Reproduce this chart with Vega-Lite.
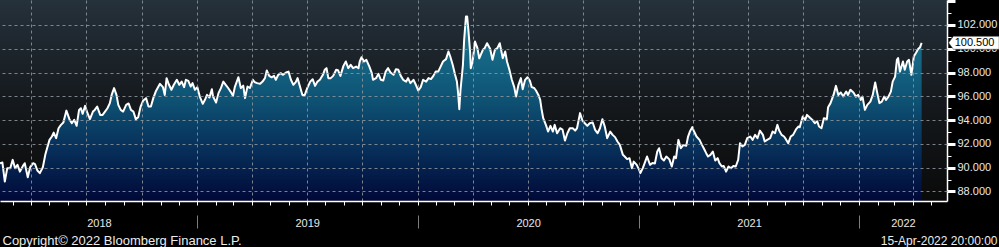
{
  "$schema": "https://vega.github.io/schema/vega-lite/v6.json",
  "width": 947,
  "height": 201,
  "autosize": {"type": "none"},
  "padding": {"left": 0, "top": 0, "right": 52, "bottom": 46},
  "background": "#000000",
  "view": {
    "stroke": null,
    "fill": {"gradient": "linear", "x1": 0, "y1": 0, "x2": 0, "y2": 1,
      "stops": [{"offset": 0, "color": "#25313b"}, {"offset": 0.5, "color": "#15191d"}, {"offset": 1, "color": "#0a0a0a"}]}
  },
  "config": {"font": "Liberation Sans", "axis": {"labelFont": "Liberation Sans", "titleFont": "Liberation Sans"}},
  "data": {"values": [
    {"date":"2018-02-08","value":90.38},{"date":"2018-02-12","value":90.43},{"date":"2018-02-16","value":88.83},{"date":"2018-02-20","value":89.96},{"date":"2018-02-25","value":89.96},
    {"date":"2018-03-01","value":90.66},{"date":"2018-03-05","value":89.96},{"date":"2018-03-09","value":90.24},{"date":"2018-03-13","value":89.67},{"date":"2018-03-18","value":90.15},
    {"date":"2018-03-21","value":90.38},{"date":"2018-03-26","value":89.2},{"date":"2018-03-30","value":90.04},{"date":"2018-04-04","value":90.38},{"date":"2018-04-07","value":90.3},
    {"date":"2018-04-11","value":89.76},{"date":"2018-04-15","value":89.54},{"date":"2018-04-20","value":90.04},{"date":"2018-04-24","value":91.08},{"date":"2018-04-27","value":91.64},
    {"date":"2018-05-01","value":92.34},{"date":"2018-05-05","value":92.62},{"date":"2018-05-08","value":92.95},{"date":"2018-05-12","value":92.48},{"date":"2018-05-16","value":93.32},
    {"date":"2018-05-20","value":93.6},{"date":"2018-05-24","value":93.8},{"date":"2018-05-29","value":94.8},{"date":"2018-06-03","value":94.08},{"date":"2018-06-07","value":93.74},
    {"date":"2018-06-11","value":94.02},{"date":"2018-06-15","value":93.52},{"date":"2018-06-19","value":94.86},{"date":"2018-06-22","value":95.0},{"date":"2018-06-25","value":94.53},
    {"date":"2018-06-29","value":95.2},{"date":"2018-07-03","value":94.58},{"date":"2018-07-07","value":94.08},{"date":"2018-07-12","value":94.72},{"date":"2018-07-15","value":94.86},
    {"date":"2018-07-19","value":95.14},{"date":"2018-07-24","value":94.44},{"date":"2018-07-28","value":94.44},{"date":"2018-08-01","value":94.72},{"date":"2018-08-05","value":95.0},
    {"date":"2018-08-09","value":95.43},{"date":"2018-08-12","value":96.12},{"date":"2018-08-16","value":96.69},{"date":"2018-08-20","value":96.12},{"date":"2018-08-23","value":95.28},
    {"date":"2018-08-27","value":94.86},{"date":"2018-08-31","value":94.72},{"date":"2018-09-05","value":95.28},{"date":"2018-09-09","value":95.4},{"date":"2018-09-13","value":94.86},
    {"date":"2018-09-17","value":94.72},{"date":"2018-09-21","value":94.08},{"date":"2018-09-25","value":94.25},{"date":"2018-09-29","value":95.14},{"date":"2018-10-03","value":95.62},
    {"date":"2018-10-08","value":95.85},{"date":"2018-10-12","value":95.14},{"date":"2018-10-16","value":95.14},{"date":"2018-10-20","value":95.85},{"date":"2018-10-24","value":96.4},
    {"date":"2018-10-31","value":97.05},{"date":"2018-11-05","value":96.77},{"date":"2018-11-08","value":96.12},{"date":"2018-11-11","value":97.53},{"date":"2018-11-15","value":96.97},
    {"date":"2018-11-19","value":96.55},{"date":"2018-11-23","value":96.97},{"date":"2018-11-28","value":97.39},{"date":"2018-12-02","value":96.97},{"date":"2018-12-06","value":97.24},
    {"date":"2018-12-10","value":96.77},{"date":"2018-12-13","value":97.39},{"date":"2018-12-17","value":97.3},{"date":"2018-12-21","value":96.82},{"date":"2018-12-24","value":97.11},
    {"date":"2018-12-28","value":96.55},{"date":"2019-01-01","value":96.77},{"date":"2019-01-05","value":95.98},{"date":"2019-01-10","value":95.37},{"date":"2019-01-14","value":95.76},
    {"date":"2019-01-17","value":96.12},{"date":"2019-01-21","value":95.9},{"date":"2019-01-25","value":96.6},{"date":"2019-01-27","value":95.98},{"date":"2019-02-01","value":95.48},
    {"date":"2019-02-05","value":96.27},{"date":"2019-02-09","value":96.69},{"date":"2019-02-13","value":97.24},{"date":"2019-02-17","value":96.97},{"date":"2019-02-21","value":96.7},
    {"date":"2019-02-25","value":96.4},{"date":"2019-03-01","value":96.04},{"date":"2019-03-04","value":96.77},{"date":"2019-03-10","value":97.61},{"date":"2019-03-14","value":96.69},
    {"date":"2019-03-18","value":96.9},{"date":"2019-03-21","value":95.85},{"date":"2019-03-25","value":96.82},{"date":"2019-03-29","value":96.7},{"date":"2019-04-03","value":97.39},
    {"date":"2019-04-06","value":97.2},{"date":"2019-04-10","value":97.11},{"date":"2019-04-15","value":97.05},{"date":"2019-04-19","value":97.24},{"date":"2019-04-23","value":97.53},
    {"date":"2019-04-26","value":98.17},{"date":"2019-04-30","value":97.72},{"date":"2019-05-04","value":97.6},{"date":"2019-05-08","value":97.72},{"date":"2019-05-11","value":97.39},
    {"date":"2019-05-15","value":97.81},{"date":"2019-05-19","value":97.95},{"date":"2019-05-23","value":97.81},{"date":"2019-05-28","value":98.0},{"date":"2019-06-01","value":98.08},
    {"date":"2019-06-05","value":97.39},{"date":"2019-06-09","value":96.97},{"date":"2019-06-13","value":97.2},{"date":"2019-06-16","value":97.53},{"date":"2019-06-20","value":96.82},
    {"date":"2019-06-24","value":96.12},{"date":"2019-06-28","value":96.12},{"date":"2019-07-02","value":96.69},{"date":"2019-07-07","value":97.24},{"date":"2019-07-11","value":97.44},
    {"date":"2019-07-15","value":96.88},{"date":"2019-07-19","value":97.24},{"date":"2019-07-23","value":97.39},{"date":"2019-07-28","value":97.81},{"date":"2019-07-31","value":98.23},
    {"date":"2019-08-03","value":98.37},{"date":"2019-08-06","value":97.53},{"date":"2019-08-10","value":97.53},{"date":"2019-08-14","value":97.72},{"date":"2019-08-19","value":98.23},
    {"date":"2019-08-22","value":98.2},{"date":"2019-08-26","value":97.72},{"date":"2019-08-31","value":98.56},{"date":"2019-09-04","value":98.93},{"date":"2019-09-08","value":98.37},
    {"date":"2019-09-12","value":98.65},{"date":"2019-09-16","value":98.37},{"date":"2019-09-21","value":98.5},{"date":"2019-09-25","value":98.37},{"date":"2019-09-27","value":98.93},
    {"date":"2019-09-30","value":99.29},{"date":"2019-10-04","value":98.93},{"date":"2019-10-08","value":99.07},{"date":"2019-10-13","value":98.5},{"date":"2019-10-17","value":97.95},
    {"date":"2019-10-19","value":97.39},{"date":"2019-10-24","value":97.53},{"date":"2019-10-28","value":97.89},{"date":"2019-11-01","value":97.39},{"date":"2019-11-05","value":97.33},
    {"date":"2019-11-09","value":98.08},{"date":"2019-11-13","value":98.37},{"date":"2019-11-17","value":98.0},{"date":"2019-11-22","value":97.81},{"date":"2019-11-26","value":98.28},
    {"date":"2019-11-30","value":98.23},{"date":"2019-12-04","value":97.72},{"date":"2019-12-08","value":97.39},{"date":"2019-12-13","value":97.24},{"date":"2019-12-16","value":97.53},
    {"date":"2019-12-20","value":97.11},{"date":"2019-12-25","value":97.39},{"date":"2019-12-29","value":96.97},{"date":"2020-01-02","value":96.49},{"date":"2020-01-06","value":96.77},
    {"date":"2020-01-10","value":97.39},{"date":"2020-01-15","value":97.24},{"date":"2020-01-19","value":97.53},{"date":"2020-01-23","value":97.45},{"date":"2020-01-27","value":97.72},
    {"date":"2020-01-31","value":98.08},{"date":"2020-02-04","value":98.08},{"date":"2020-02-08","value":98.5},{"date":"2020-02-12","value":98.93},{"date":"2020-02-17","value":99.13},
    {"date":"2020-02-21","value":99.77},{"date":"2020-02-24","value":99.35},{"date":"2020-02-28","value":98.65},{"date":"2020-03-03","value":97.81},{"date":"2020-03-06","value":97.24},
    {"date":"2020-03-08","value":96.27},{"date":"2020-03-10","value":94.92},{"date":"2020-03-12","value":96.55},{"date":"2020-03-16","value":98.65},{"date":"2020-03-18","value":100.75},
    {"date":"2020-03-21","value":102.71},{"date":"2020-03-23","value":102.71},{"date":"2020-03-25","value":101.59},{"date":"2020-03-28","value":99.63},{"date":"2020-03-29","value":98.37},
    {"date":"2020-04-01","value":98.93},{"date":"2020-04-05","value":100.61},{"date":"2020-04-09","value":100.05},{"date":"2020-04-12","value":99.2},{"date":"2020-04-18","value":99.91},
    {"date":"2020-04-21","value":100.05},{"date":"2020-04-25","value":100.47},{"date":"2020-04-30","value":100.0},{"date":"2020-05-04","value":99.07},{"date":"2020-05-08","value":99.91},
    {"date":"2020-05-12","value":100.05},{"date":"2020-05-16","value":100.47},{"date":"2020-05-21","value":99.2},{"date":"2020-05-25","value":99.77},{"date":"2020-05-28","value":98.93},
    {"date":"2020-06-01","value":98.23},{"date":"2020-06-05","value":97.39},{"date":"2020-06-09","value":96.77},{"date":"2020-06-12","value":95.98},{"date":"2020-06-16","value":96.97},
    {"date":"2020-06-20","value":97.53},{"date":"2020-06-23","value":96.6},{"date":"2020-06-27","value":97.39},{"date":"2020-07-01","value":97.61},{"date":"2020-07-05","value":97.3},
    {"date":"2020-07-08","value":96.77},{"date":"2020-07-12","value":96.7},{"date":"2020-07-15","value":96.49},{"date":"2020-07-19","value":96.12},{"date":"2020-07-22","value":95.7},
    {"date":"2020-07-24","value":95.0},{"date":"2020-07-27","value":94.16},{"date":"2020-08-01","value":93.52},{"date":"2020-08-04","value":93.04},{"date":"2020-08-08","value":93.52},
    {"date":"2020-08-12","value":93.04},{"date":"2020-08-15","value":93.6},{"date":"2020-08-19","value":92.9},{"date":"2020-08-24","value":93.32},{"date":"2020-08-28","value":93.2},
    {"date":"2020-09-01","value":92.28},{"date":"2020-09-05","value":92.9},{"date":"2020-09-09","value":93.32},{"date":"2020-09-14","value":93.32},{"date":"2020-09-18","value":93.12},
    {"date":"2020-09-21","value":93.32},{"date":"2020-09-26","value":94.59},{"date":"2020-09-30","value":93.96},{"date":"2020-10-04","value":93.74},{"date":"2020-10-08","value":93.52},
    {"date":"2020-10-12","value":93.74},{"date":"2020-10-17","value":93.8},{"date":"2020-10-21","value":93.18},{"date":"2020-10-25","value":92.9},{"date":"2020-10-29","value":93.32},
    {"date":"2020-11-02","value":94.08},{"date":"2020-11-06","value":93.46},{"date":"2020-11-10","value":92.48},{"date":"2020-11-15","value":93.04},{"date":"2020-11-19","value":92.76},
    {"date":"2020-11-23","value":92.57},{"date":"2020-11-27","value":92.2},{"date":"2020-12-01","value":91.92},{"date":"2020-12-06","value":91.08},{"date":"2020-12-09","value":90.94},
    {"date":"2020-12-13","value":90.72},{"date":"2020-12-17","value":90.8},{"date":"2020-12-21","value":89.96},{"date":"2020-12-24","value":90.51},{"date":"2020-12-29","value":90.24},
    {"date":"2021-01-02","value":89.82},{"date":"2021-01-04","value":89.54},{"date":"2021-01-08","value":89.96},{"date":"2021-01-12","value":90.51},{"date":"2021-01-15","value":90.94},
    {"date":"2021-01-20","value":90.24},{"date":"2021-01-24","value":90.4},{"date":"2021-01-28","value":90.35},{"date":"2021-02-01","value":91.36},{"date":"2021-02-04","value":91.64},
    {"date":"2021-02-08","value":90.8},{"date":"2021-02-12","value":90.6},{"date":"2021-02-16","value":90.94},{"date":"2021-02-21","value":90.7},{"date":"2021-02-25","value":90.1},
    {"date":"2021-03-01","value":90.94},{"date":"2021-03-04","value":90.8},{"date":"2021-03-08","value":92.34},{"date":"2021-03-12","value":91.64},{"date":"2021-03-16","value":91.9},
    {"date":"2021-03-21","value":91.84},{"date":"2021-03-24","value":92.62},{"date":"2021-03-27","value":93.04},{"date":"2021-03-31","value":93.41},{"date":"2021-04-03","value":93.04},
    {"date":"2021-04-07","value":92.62},{"date":"2021-04-12","value":92.34},{"date":"2021-04-16","value":91.92},{"date":"2021-04-19","value":91.64},{"date":"2021-04-23","value":91.22},
    {"date":"2021-04-26","value":90.94},{"date":"2021-04-30","value":91.08},{"date":"2021-05-04","value":91.36},{"date":"2021-05-08","value":90.6},{"date":"2021-05-12","value":90.8},
    {"date":"2021-05-15","value":90.38},{"date":"2021-05-19","value":90.1},{"date":"2021-05-22","value":90.15},{"date":"2021-05-26","value":89.67},{"date":"2021-05-30","value":90.1},
    {"date":"2021-06-03","value":89.96},{"date":"2021-06-07","value":90.15},{"date":"2021-06-11","value":90.1},{"date":"2021-06-15","value":90.66},{"date":"2021-06-18","value":92.06},
    {"date":"2021-06-22","value":91.78},{"date":"2021-06-26","value":91.92},{"date":"2021-06-30","value":92.48},{"date":"2021-07-05","value":92.62},{"date":"2021-07-09","value":92.34},
    {"date":"2021-07-13","value":92.76},{"date":"2021-07-17","value":92.48},{"date":"2021-07-21","value":93.12},{"date":"2021-07-26","value":92.76},{"date":"2021-07-29","value":92.2},
    {"date":"2021-08-02","value":92.34},{"date":"2021-08-07","value":92.48},{"date":"2021-08-11","value":93.04},{"date":"2021-08-15","value":92.9},{"date":"2021-08-19","value":93.6},
    {"date":"2021-08-22","value":93.12},{"date":"2021-08-26","value":92.76},{"date":"2021-08-30","value":92.62},{"date":"2021-09-02","value":92.4},{"date":"2021-09-06","value":92.06},
    {"date":"2021-09-10","value":92.62},{"date":"2021-09-14","value":92.76},{"date":"2021-09-19","value":93.24},{"date":"2021-09-23","value":93.46},{"date":"2021-09-25","value":93.4},
    {"date":"2021-09-30","value":94.3},{"date":"2021-10-04","value":94.02},{"date":"2021-10-07","value":94.44},{"date":"2021-10-12","value":94.2},{"date":"2021-10-16","value":94.02},
    {"date":"2021-10-20","value":93.74},{"date":"2021-10-24","value":93.9},{"date":"2021-10-27","value":93.46},{"date":"2021-10-31","value":93.32},{"date":"2021-11-04","value":94.16},
    {"date":"2021-11-09","value":94.1},{"date":"2021-11-11","value":95.09},{"date":"2021-11-15","value":95.43},{"date":"2021-11-20","value":96.12},{"date":"2021-11-24","value":96.88},
    {"date":"2021-11-28","value":96.12},{"date":"2021-12-02","value":96.32},{"date":"2021-12-06","value":96.0},{"date":"2021-12-11","value":96.4},{"date":"2021-12-14","value":96.12},
    {"date":"2021-12-18","value":96.55},{"date":"2021-12-23","value":96.32},{"date":"2021-12-27","value":95.98},{"date":"2021-12-31","value":96.12},{"date":"2022-01-04","value":95.7},
    {"date":"2022-01-07","value":95.98},{"date":"2022-01-11","value":94.86},{"date":"2022-01-15","value":95.28},{"date":"2022-01-20","value":95.56},{"date":"2022-01-24","value":96.12},
    {"date":"2022-01-28","value":97.16},{"date":"2022-01-31","value":96.4},{"date":"2022-02-04","value":95.43},{"date":"2022-02-08","value":95.56},{"date":"2022-02-12","value":95.98},
    {"date":"2022-02-15","value":95.7},{"date":"2022-02-19","value":95.98},{"date":"2022-02-23","value":96.4},{"date":"2022-02-26","value":97.24},{"date":"2022-03-02","value":97.66},
    {"date":"2022-03-05","value":99.07},{"date":"2022-03-07","value":99.21},{"date":"2022-03-10","value":98.08},{"date":"2022-03-15","value":98.93},{"date":"2022-03-18","value":98.23},
    {"date":"2022-03-22","value":98.93},{"date":"2022-03-25","value":99.07},{"date":"2022-03-29","value":97.81},{"date":"2022-04-02","value":99.35},{"date":"2022-04-06","value":99.68},
    {"date":"2022-04-09","value":99.97},{"date":"2022-04-12","value":100.1},{"date":"2022-04-15","value":100.5}
  ]},
  "layer": [
    {
      "mark": {"type": "area", "line": false, "opacity": 1, "clip": true,
        "fill": {"gradient": "linear", "x1": 0, "y1": 0, "x2": 0, "y2": 1,
          "stops": [{"offset": 0, "color": "#1c7b94"}, {"offset": 0.45, "color": "#0e5274"}, {"offset": 0.75, "color": "#062b56"}, {"offset": 1, "color": "#010838"}]}},
      "encoding": {
        "x": {"field": "date", "type": "temporal",
          "scale": {"type": "utc", "domain": [{"year": 2018, "month": 2, "date": 8, "utc": true}, {"year": 2022, "month": 5, "date": 27, "utc": true}]},
          "axis": {"orient": "bottom", "title": null, "grid": true, "ticks": false, "labels": false, "domain": false,
            "tickCount": {"interval": "month", "step": 3}, "gridColor": "#8e959c", "gridDash": [3, 3], "gridWidth": 1, "gridOpacity": 0.85, "zindex": 1}},
        "y": {"field": "value", "type": "quantitative",
          "scale": {"domain": [87.2, 104.1], "nice": false, "zero": false},
          "axis": {"orient": "right", "title": null, "grid": true, "ticks": false, "labels": false, "domain": false,
            "values": [88, 90, 92, 94, 96, 98, 100, 102], "gridColor": "#8e959c", "gridDash": [3, 3], "gridWidth": 1, "gridOpacity": 0.85, "zindex": 1}},
        "y2": {"datum": 87.2}
      }
    },
    {
      "mark": {"type": "line", "color": "#ffffff", "strokeWidth": 2, "strokeJoin": "round"},
      "encoding": {
        "x": {"field": "date", "type": "temporal",
          "scale": {"type": "utc", "domain": [{"year": 2018, "month": 2, "date": 8, "utc": true}, {"year": 2022, "month": 5, "date": 27, "utc": true}]},
          "axis": {"orient": "bottom", "title": null, "grid": false, "labels": false, "ticks": true, "tickSize": 4, "tickColor": "#ffffff", "tickWidth": 1,
            "domain": true, "domainColor": "#ffffff", "domainWidth": 1.5, "tickCount": {"interval": "month", "step": 1}, "zindex": 1}},
        "y": {"field": "value", "type": "quantitative",
          "scale": {"domain": [87.2, 104.1], "nice": false, "zero": false},
          "axis": {"orient": "right", "title": null, "grid": false, "values": [88, 90, 92, 94, 96, 98, 100, 102, 104],
            "labelExpr": "datum.value > 103 ? '' : format(datum.value, '.3f')",
            "ticks": true, "tickSize": 8, "tickWidth": 3, "tickColor": "#ffffff",
            "domain": true, "domainColor": "#ffffff", "domainWidth": 1.5,
            "labelPadding": 2, "labelFontSize": 11, "labelColor": "#e8e8e8", "labelBaseline": "middle", "labelFlush": false, "labelOverlap": false, "zindex": 0}}
      }
    },
    {
      "data": {"values": [{"date": "2022-04-15", "value": 100.5, "label": "100.500"}]},
      "mark": {"type": "point", "shape": "M1.08,0L1.27,-0.26L3.1,-0.26L3.1,0.26L1.27,0.26Z", "size": 2500, "filled": true, "fill": "#ffffff", "stroke": "#444444", "strokeWidth": 0.6, "opacity": 1},
      "encoding": {
        "x": {"field": "date", "type": "temporal",
          "scale": {"type": "utc", "domain": [{"year": 2018, "month": 2, "date": 8, "utc": true}, {"year": 2022, "month": 5, "date": 27, "utc": true}]},
          "axis": {"orient": "bottom", "offset": 14, "grid": false, "labels": false, "domain": false, "ticks": true, "tickSize": 13, "tickColor": "#7d7d7d", "tickWidth": 1,
            "tickCount": {"interval": "year", "step": 1},
            "title": "Copyright© 2022 Bloomberg Finance L.P.", "titleX": 2, "titleY": 29, "titleAlign": "left", "titleBaseline": "alphabetic",
            "titleFontSize": 13, "titleFontWeight": "normal", "titleColor": "#ececec", "zindex": 0}},
        "y": {"field": "value", "type": "quantitative",
          "scale": {"domain": [87.2, 104.1], "nice": false, "zero": false},
          "axis": {"orient": "right", "title": null, "grid": false, "labels": false, "domain": false,
            "values": [89, 91, 93, 95, 97, 99, 101, 103], "ticks": true, "tickSize": 4, "tickWidth": 1, "tickColor": "#ffffff", "zindex": 0}}
      }
    },
    {
      "data": {"values": [{"date": "2022-04-15", "value": 100.5, "label": "100.500"}]},
      "mark": {"type": "text", "align": "left", "baseline": "middle", "dx": 33, "fontSize": 11, "color": "#000000", "font": "Liberation Sans"},
      "encoding": {
        "x": {"field": "date", "type": "temporal",
          "scale": {"type": "utc", "domain": [{"year": 2018, "month": 2, "date": 8, "utc": true}, {"year": 2022, "month": 5, "date": 27, "utc": true}]},
          "axis": {"orient": "bottom", "grid": false, "domain": false, "ticks": false, "tickSize": 0,
            "values": [{"year": 2018, "month": 7, "date": 22, "utc": true}, {"year": 2019, "month": 7, "date": 2, "utc": true}, {"year": 2020, "month": 7, "date": 2, "utc": true}, {"year": 2021, "month": 7, "date": 3, "utc": true}, {"year": 2022, "month": 3, "date": 15, "utc": true}],
            "labelExpr": "utcFormat(datum.value, '%Y')", "labelPadding": 25, "labelBaseline": "alphabetic", "labelAlign": "center",
            "labelFontSize": 11, "labelColor": "#e8e8e8", "labelFlush": false, "labelOverlap": false,
            "title": "15-Apr-2022 20:00:00", "titleX": 997, "titleY": 43, "titleAlign": "right", "titleBaseline": "alphabetic",
            "titleFontSize": 12, "titleFontWeight": "normal", "titleColor": "#ececec", "zindex": 0}},
        "y": {"field": "value", "type": "quantitative",
          "scale": {"domain": [87.2, 104.1], "nice": false, "zero": false}, "axis": null},
        "text": {"field": "label", "type": "nominal"}
      }
    }
  ],
  "resolve": {"axis": {"x": "independent", "y": "independent"}}
}
